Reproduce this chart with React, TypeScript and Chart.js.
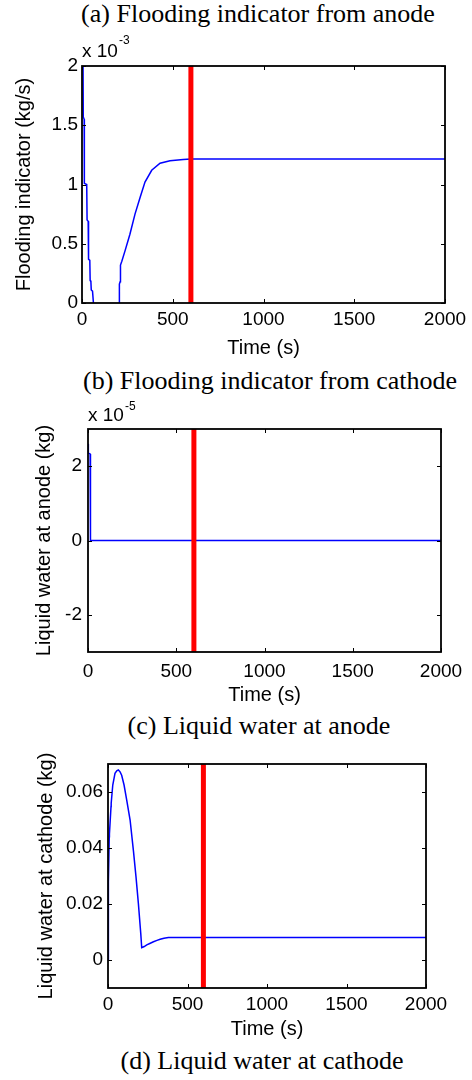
import React, { useEffect, useRef } from "react";
import { Chart, registerables } from "chart.js";

Chart.register(...registerables);

const SANS = "'Liberation Sans', Arial, sans-serif";
const SERIF = "'Liberation Serif', 'Times New Roman', serif";

// shared x axis
const timeTicks = [0, 500, 1000, 1500, 2000];
const markerTime = 600;

// (a) flooding indicator from anode, in units of 1e-3 kg/s
const anodeFloodTime = [0, 5, 7, 12, 13, 26, 28, 34, 36, 43, 45, 49, 51, 58, 63, 70, 200, 204, 206, 210, 212, 219, 237, 264, 292, 320, 347, 384, 430, 485, 558, 600, 2000];
const anodeFloodValue = [2.6, 2.3, 1.57, 1.55, 1.01, 1.0, 0.7, 0.69, 0.37, 0.36, 0.19, 0.18, 0.11, 0.1, 0, -0.3, -0.3, -0.02, 0.16, 0.18, 0.32, 0.35, 0.44, 0.58, 0.75, 0.89, 1.02, 1.12, 1.18, 1.2, 1.21, 1.215, 1.215];
const anodeFloodTicks = [0, 0.5, 1, 1.5, 2];

// (b) liquid water at anode, in units of 1e-5 kg
const anodeWaterTime = [0, 2, 12, 14, 2000];
const anodeWaterValue = [2.6, 2.35, 2.33, 0, 0];
const anodeWaterTicks = [-2, 0, 2];

// (c) liquid water at cathode, kg
const cathodeWaterTime = [0, 2, 3, 8, 9, 19, 20, 30, 44, 55, 65, 76, 86, 101, 118, 139, 160, 176, 191, 206, 212, 228, 244, 266, 286, 308, 328, 352, 380, 2000];
const cathodeWaterValue = [0, 0.028, 0.028, 0.044, 0.045, 0.0548, 0.056, 0.0625, 0.0667, 0.0676, 0.0679, 0.0672, 0.066, 0.0625, 0.057, 0.05, 0.039, 0.0298, 0.0202, 0.0095, 0.0044, 0.0048, 0.0054, 0.006, 0.0065, 0.007, 0.0074, 0.0078, 0.008, 0.008];
const cathodeWaterTicks = [0, 0.02, 0.04, 0.06];

const captionTexts = [
  "(a) Flooding indicator from anode",
  "(b) Flooding indicator from cathode",
  "(c) Liquid water at anode",
  "(d) Liquid water at cathode",
];

type Rect = { left: number; top: number; width: number; height: number };
type Area = { left: number; top: number; right: number; bottom: number };

type PanelSpec = {
  canvas: Rect;
  area: Area;
  time: number[];
  value: number[];
  yMin: number;
  yMax: number;
  yTicks: number[];
  yTitle: string;
  exponent?: string;
  yTitleCenter: number;
  xTitleCenter: number;
  xLabelPad: number;
  yLabelPad: number;
  expBase?: number;
  expSup?: number;
};

const panels: PanelSpec[] = [
  {
    canvas: { left: 0, top: 30, width: 472, height: 330 },
    area: { left: 82, top: 66, right: 445, bottom: 303 },
    time: anodeFloodTime,
    value: anodeFloodValue,
    yMin: 0,
    yMax: 2,
    yTicks: anodeFloodTicks,
    yTitle: "Flooding indicator (kg/s)",
    exponent: "-3",
    yTitleCenter: 24,
    xTitleCenter: 348,
    xLabelPad: 5,
    yLabelPad: 4,
    expBase: 9,
    expSup: 22,
  },
  {
    canvas: { left: 0, top: 395, width: 472, height: 320 },
    area: { left: 88, top: 429, right: 441, bottom: 652 },
    time: anodeWaterTime,
    value: anodeWaterValue,
    yMin: -3,
    yMax: 3,
    yTicks: anodeWaterTicks,
    yTitle: "Liquid water at anode (kg)",
    exponent: "-5",
    yTitleCenter: 44,
    xTitleCenter: 695,
    xLabelPad: 8,
    yLabelPad: 6,
    expBase: 8,
    expSup: 19,
  },
  {
    canvas: { left: 0, top: 740, width: 472, height: 305 },
    area: { left: 108, top: 764, right: 426, bottom: 988 },
    time: cathodeWaterTime,
    value: cathodeWaterValue,
    yMin: -0.01,
    yMax: 0.07,
    yTicks: cathodeWaterTicks,
    yTitle: "Liquid water at cathode (kg)",
    yTitleCenter: 46,
    xTitleCenter: 1029,
    xLabelPad: 5,
    yLabelPad: 5,
  },
];

const captionLayout = [
  { cx: 258, top: 1 },
  { cx: 270, top: 367.5 },
  { cx: 259, top: 713 },
  { cx: 262, top: 1047.5 },
];

function makeFramePlugin(spec: PanelSpec) {
  return {
    id: "matlabFrame",
    afterDraw(chart: any) {
      const { ctx, chartArea: a, scales } = chart;
      const xs = scales.x;
      const ys = scales.y;
      const L = 4;
      ctx.save();
      ctx.strokeStyle = "#000";
      ctx.lineWidth = 1;
      ctx.beginPath();
      for (const t of timeTicks) {
        const px = Math.round(xs.getPixelForValue(t)) + 0.5;
        ctx.moveTo(px, a.bottom);
        ctx.lineTo(px, a.bottom - L);
        ctx.moveTo(px, a.top);
        ctx.lineTo(px, a.top + L);
      }
      for (const v of spec.yTicks) {
        const py = Math.round(ys.getPixelForValue(v)) + 0.5;
        ctx.moveTo(a.left, py);
        ctx.lineTo(a.left + L, py);
        ctx.moveTo(a.right, py);
        ctx.lineTo(a.right - L, py);
      }
      ctx.stroke();
      ctx.lineWidth = 1.8;
      ctx.strokeRect(a.left, a.top, a.right - a.left, a.bottom - a.top);
      if (spec.exponent) {
        ctx.fillStyle = "#000";
        ctx.textAlign = "left";
        ctx.textBaseline = "alphabetic";
        ctx.font = `19px ${SANS}`;
        const base = "x 10";
        ctx.fillText(base, a.left, a.top - (spec.expBase || 8));
        const w = ctx.measureText(base).width;
        ctx.font = `12px ${SANS}`;
        ctx.fillText(spec.exponent, a.left + w + 1, a.top - (spec.expSup || 20));
      }
      ctx.restore();
    },
  };
}

function buildChart(canvas: HTMLCanvasElement, spec: PanelSpec) {
  const c = spec.canvas;
  const a = spec.area;
  const canvasBottom = c.top + c.height;
  const tickFont = { family: SANS, size: 19 };
  const titleFont = { family: SANS, size: 20 };
  const titleLine = 20 * 1.2;
  return new Chart(canvas, {
    type: "line",
    data: {
      datasets: [
        {
          data: [
            { x: markerTime, y: spec.yMin },
            { x: markerTime, y: spec.yMax },
          ],
          borderColor: "#ff0000",
          borderWidth: 5,
          pointRadius: 0,
          order: 0,
          clip: 0,
        },
        {
          data: spec.time.map((t, i) => ({ x: t, y: spec.value[i] })),
          borderColor: "#0000ff",
          borderWidth: 1.5,
          pointRadius: 0,
          tension: 0,
          order: 1,
          clip: 0,
        },
      ],
    },
    options: {
      responsive: false,
      animation: false,
      devicePixelRatio: 1,
      events: [],
      layout: {
        padding: {
          top: a.top - c.top,
          right: c.left + c.width - a.right,
          left: 0,
          bottom: 0,
        },
      },
      plugins: {
        legend: { display: false },
        tooltip: { enabled: false },
        title: { display: false },
      },
      scales: {
        x: {
          type: "linear",
          min: 0,
          max: 2000,
          grid: { display: false, drawTicks: false },
          border: { display: false },
          ticks: {
            font: tickFont,
            color: "#000",
            padding: spec.xLabelPad,
            maxRotation: 0,
            autoSkip: false,
            callback: (v: any) => String(v),
          },
          afterBuildTicks: (s: any) => {
            s.ticks = timeTicks.map((v) => ({ value: v }));
          },
          afterFit: (s: any) => {
            s.height = canvasBottom - a.bottom;
            s.paddingLeft = 0;
            s.paddingRight = 0;
          },
          title: {
            display: true,
            text: "Time (s)",
            color: "#000",
            font: titleFont,
            padding: { top: 0, bottom: Math.max(0, canvasBottom - spec.xTitleCenter - titleLine / 2) },
          },
        },
        y: {
          type: "linear",
          min: spec.yMin,
          max: spec.yMax,
          grid: { display: false, drawTicks: false },
          border: { display: false },
          ticks: {
            font: tickFont,
            color: "#000",
            padding: spec.yLabelPad,
            autoSkip: false,
            callback: (v: any) => String(v),
          },
          afterBuildTicks: (s: any) => {
            s.ticks = spec.yTicks.map((v) => ({ value: v }));
          },
          afterFit: (s: any) => {
            s.width = a.left - c.left;
            s.paddingTop = 0;
            s.paddingBottom = 0;
          },
          title: {
            display: true,
            text: spec.yTitle,
            color: "#000",
            font: titleFont,
            padding: { top: Math.max(0, spec.yTitleCenter - c.left - titleLine / 2), bottom: 0 },
          },
        },
      },
    } as any,
    plugins: [makeFramePlugin(spec)],
  });
}

function Panel({ spec }: { spec: PanelSpec }) {
  const ref = useRef<HTMLCanvasElement | null>(null);
  useEffect(() => {
    if (!ref.current) return;
    const chart = buildChart(ref.current, spec);
    return () => chart.destroy();
  }, [spec]);
  const c = spec.canvas;
  return (
    <canvas
      ref={ref}
      width={c.width}
      height={c.height}
      style={{ position: "absolute", left: c.left, top: c.top, width: c.width, height: c.height }}
    />
  );
}

export default function App() {
  return (
    <div
      style={{
        position: "absolute",
        left: 0,
        top: 0,
        width: 472,
        height: 1080,
        background: "#fff",
        overflow: "hidden",
      }}
    >
      {captionTexts.map((text, i) => (
        <div
          key={i}
          style={{
            position: "absolute",
            left: captionLayout[i].cx - 250,
            width: 500,
            top: captionLayout[i].top,
            textAlign: "center",
            fontFamily: SERIF,
            fontSize: 26,
            lineHeight: "26px",
            whiteSpace: "nowrap",
            color: "#000",
          }}
        >
          {text}
        </div>
      ))}
      {panels.map((p, i) => (
        <Panel key={i} spec={p} />
      ))}
    </div>
  );
}
